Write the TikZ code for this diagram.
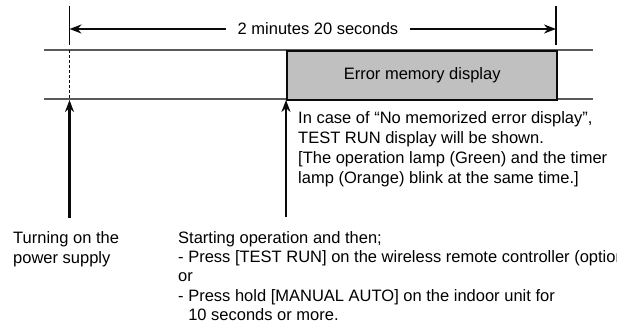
\documentclass[tikz,border=0pt]{standalone}
\usepackage{fontspec}
\setmainfont{Liberation Sans}
\usepackage{tikz}
\usetikzlibrary{arrows.meta,positioning}
\definecolor{tcedge}{RGB}{10,10,10}
\definecolor{tcrail}{RGB}{90,90,90}
\definecolor{tcerr}{RGB}{192,192,192}
\tikzset{
  rail/.style={draw=tcrail, line width=1.1pt},
  tick/.style={draw=tcedge, line width=1.2pt},
  errbox/.style={
    draw=tcedge, fill=tcerr, line width=2.4pt,
    anchor=north west, minimum width=270pt, minimum height=49pt,
    inner sep=0pt
  },
  dimarr/.style={-{Stealth[length=12pt,width=9pt]}, draw=tcedge, line width=2pt},
  uparr/.style={-{Stealth[length=12pt,width=9pt]}, draw=tcedge, line width=2.6pt},
  note/.style={anchor=north west, align=left, inner sep=0pt},
  every picture/.append style={font=\fontsize{16.5}{20}\selectfont}
}

\begin{document}
\begin{tikzpicture}[x=1pt,y=-1pt]
  \useasboundingbox (0,0) rectangle (617,326);
  % rails
  \coordinate (ra) at (44,50);   \coordinate (rb) at (593,50);
  \coordinate (rc) at (44,99);   \coordinate (rd) at (593,99);
  \draw[rail] (ra) -- (rb);
  \draw[rail] (rc) -- (rd);
  % start and end ticks
  \coordinate (p0t) at (69.5,6);  \coordinate (p0b) at (69.5,45);
  \coordinate (p0u) at (69.5,50); \coordinate (p0d) at (69.5,99);
  \coordinate (p2t) at (556,6);   \coordinate (p2b) at (556,45);
  \draw[tick] (p0t) -- (p0b);
  \draw[tick, dashed, dash pattern=on 3pt off 2pt] (p0u) -- (p0d);
  \draw[tick] (p2t) -- (p2b);
  % error memory box
  \node[errbox] (err) at (286,50) {Error memory display};
  % duration
  \node[inner sep=12pt] (dur) at (318,29) {2 minutes 20 seconds};
  \coordinate (d0) at (p0t |- dur.west);
  \coordinate (d2) at (p2t |- dur.east);
  \draw[dimarr] (dur.west) -- (d0);
  \draw[dimarr] (dur.east) -- (d2);
  % triggers
  \coordinate (a0) at (69.5,218);  \coordinate (a0e) at (69.5,100);
  \coordinate (a1) at (286,217);   \coordinate (a1e) at (286,100);
  \draw[uparr] (a0) -- (a0e);
  \draw[uparr] (a1) -- (a1e);
  % texts
  \node[note] (nomem) at (298,111)
    {In case of “No memorized error display”,\\
     TEST RUN display will be shown.\\
     {[}The operation lamp (Green) and the timer\\
     lamp (Orange) blink at the same time.]};
  \node[note] (power) at (13,231)
    {Turning on the\\power supply};
  \node[note, font=\fontsize{16.5}{19.3}\selectfont] (start) at (178,231)
    {Starting operation and then;\\
     - Press [TEST RUN] on the wireless remote controller (option)\\
     or\\
     - Press hold [MANUAL AUTO] on the indoor unit for\\
     \phantom{- }10 seconds or more.};
\end{tikzpicture}
\end{document}
